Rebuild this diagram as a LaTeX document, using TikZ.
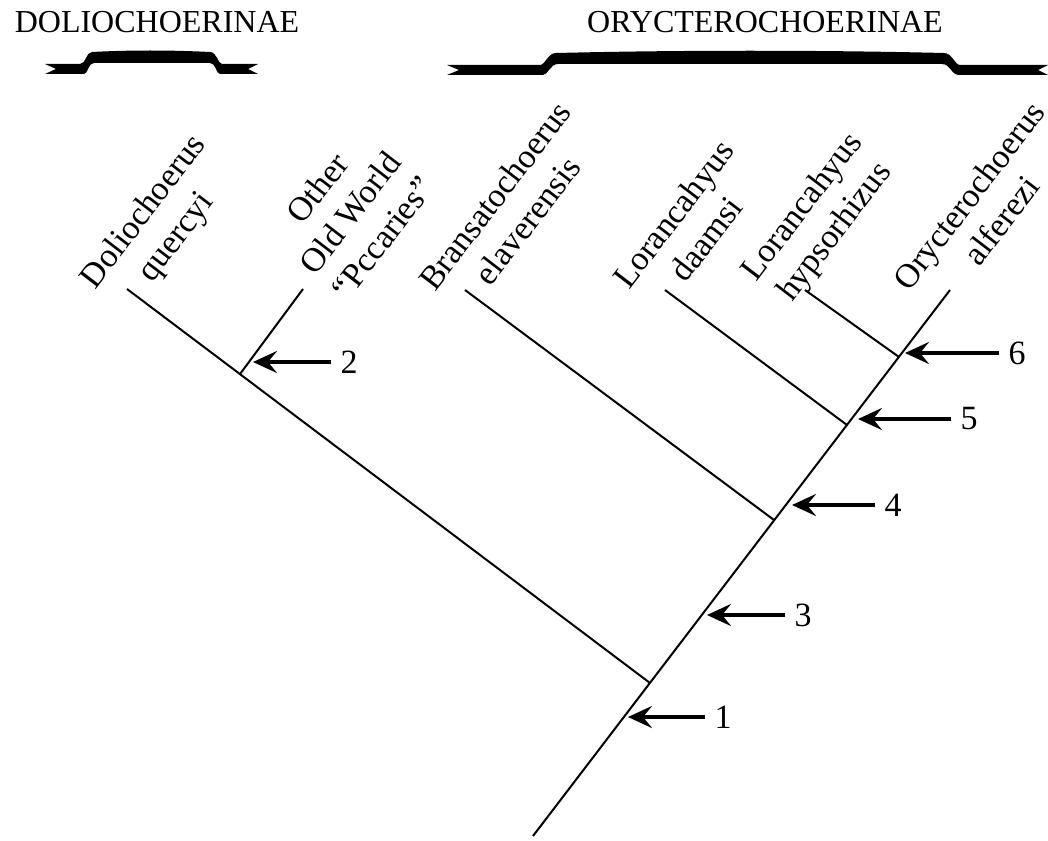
\documentclass[tikz,border=0pt]{standalone}
\usepackage{fontspec}
\setmainfont{Liberation Serif}
\usetikzlibrary{arrows.meta,calc}
\begin{document}
\begin{tikzpicture}[x=1pt,y=-1pt,
  tree/.style={line width=2pt},
  marker/.style={line width=4.5pt,shorten <=9pt,-{Stealth[length=24pt,width=22pt,inset=9pt]}},
  taxon/.style={rotate=52.5,align=center,anchor=west,inner sep=0pt,font=\fontsize{34}{41}\selectfont},
  num/.style={inner sep=0pt,font=\fontsize{34}{40}\selectfont},
  head/.style={inner sep=0pt,anchor=base,font=\fontsize{32}{38}\selectfont},
  ribbon/.style={fill=black}]
\useasboundingbox (0,0) rectangle (1048,840);

% headers
\node[head] (hdol) at (157,33) {DOLIOCHOERINAE};
\node[head] (hory) at (765,33) {ORYCTEROCHOERINAE};

% ribbons (braces)
\fill[ribbon] (45,64) -- (56,69) -- (45,74) -- (84,74) .. controls (88,74) and (88,63) .. (94,63) -- (210,63) .. controls (216,63) and (216,74) .. (220,74) -- (258,74) -- (248,69) -- (258,64) -- (222,64) .. controls (218,64) and (217,52) .. (210,52) .. controls (170,50) and (130,50) .. (92,52) .. controls (86,52) and (86,64) .. (80,64) -- cycle;
\fill[ribbon] (447,65) -- (459,70) -- (447,75) -- (543,75) .. controls (548,75) and (550,64) .. (558,64) -- (942,64) .. controls (950,64) and (952,75) .. (958,75) -- (1048,75) -- (1038,70) -- (1048,65) -- (960,65) .. controls (955,65) and (952,53) .. (944,53) .. controls (820,50) and (680,50) .. (556,53) .. controls (548,53) and (545,65) .. (540,65) -- cycle;

% tree coordinates
\coordinate (root) at (533,836);
\coordinate (top) at (950,290);
\coordinate (jdol) at (650,683);
\coordinate (jbra) at (774,520);
\coordinate (jdaa) at (847,425);
\coordinate (jhyp) at (899,357);
\coordinate (tdol) at (127,289);
\coordinate (tbra) at (465,290);
\coordinate (tdaa) at (665,290);
\coordinate (thyp) at (805,290);
\coordinate (toth) at (303,289);
\coordinate (joth) at ($(tdol)!0.216!(jdol)$);

% tree
\draw[tree] (root) -- (top);
\draw[tree] (jdol) -- (tdol);
\draw[tree] (joth) -- (toth);
\draw[tree] (jbra) -- (tbra);
\draw[tree] (jdaa) -- (tdaa);
\draw[tree] (jhyp) -- (thyp);

% taxon labels
\node[taxon] (ldol) at (105,298) {Doliochoerus\\quercyi};
\node[taxon] (loth) at (306,270) {Other\\Old World\\``Pccaries''};
\node[taxon] (lbra) at (442,298) {Bransatochoerus\\elaverensis};
\node[taxon] (ldaa) at (636,296) {Lorancahyus\\daamsi};
\node[taxon] (lhyp) at (766,290) {Lorancahyus\\hypsorhizus};
\node[taxon] (lory) at (916,298) {Orycterochoerus\\alferezi};

% arrows and numbers
\coordinate (a1) at (628,717);
\coordinate (a2) at (253,362);
\coordinate (a3) at (707,615);
\coordinate (a4) at (792,505);
\coordinate (a5) at (858,419);
\coordinate (a6) at (905,353);
\node[num] (n1) at (723,717) {1};
\node[num] (n2) at (349,362) {2};
\node[num] (n3) at (803,615) {3};
\node[num] (n4) at (893,505) {4};
\node[num] (n5) at (969,419) {5};
\node[num] (n6) at (1017,353) {6};
\draw[marker] (n1.west) -- (a1);
\draw[marker] (n2.west) -- (a2);
\draw[marker] (n3.west) -- (a3);
\draw[marker] (n4.west) -- (a4);
\draw[marker] (n5.west) -- (a5);
\draw[marker] (n6.west) -- (a6);
\end{tikzpicture}
\end{document}
